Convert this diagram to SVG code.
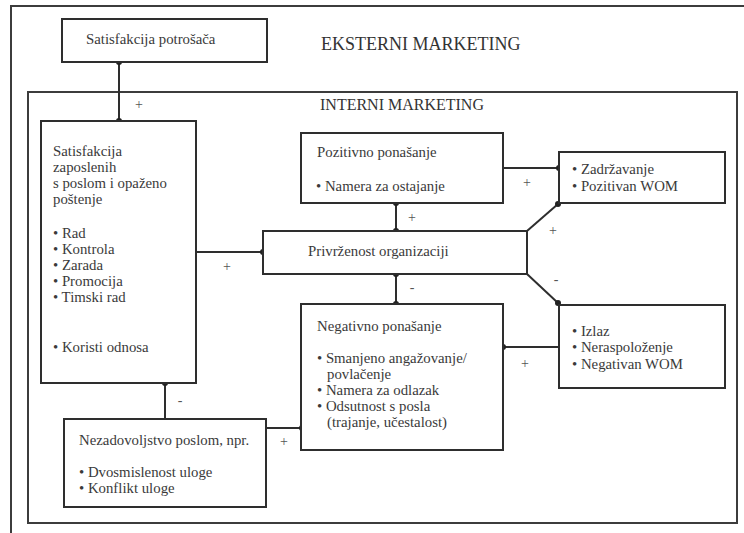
<svg xmlns="http://www.w3.org/2000/svg" width="744" height="533" viewBox="0 0 744 533">
  <style>
    .frame { fill: none; stroke: #3c3c3c; stroke-width: 2; }
    .box { fill: #ffffff; stroke: #2e2e2e; stroke-width: 2; }
    .link { fill: none; stroke: #2e2e2e; stroke-width: 2; }
  </style>
  <defs>
    <marker id="dot" viewBox="0 0 6 6" refX="3" refY="3" markerWidth="3" markerHeight="3" markerUnits="strokeWidth">
      <circle cx="3" cy="3" r="3" fill="#222222"/>
    </marker>
  </defs>

  <rect width="744" height="533" fill="#ffffff"/>

  <!-- outer and inner frames -->
  <rect class="frame" x="11" y="6" width="760" height="560"/>
  <rect class="frame" x="28" y="92" width="709" height="431"/>
  <g font-family="'Liberation Serif', serif" fill="#333333">
    <text x="321" y="50" font-size="18">EKSTERNI MARKETING</text>
    <text x="320" y="110" font-size="16">INTERNI MARKETING</text>
  </g>

  <!-- connectors -->
  <g id="connectors">
    <path class="link" d="M119,62 V121" marker-start="url(#dot)" marker-end="url(#dot)"/>
    <path class="link" d="M196,252 H263" marker-end="url(#dot)"/>
    <path class="link" d="M396,203 V231" marker-start="url(#dot)" marker-end="url(#dot)"/>
    <path class="link" d="M396,274 V304" marker-start="url(#dot)" marker-end="url(#dot)"/>
    <path class="link" d="M503,168 H559" marker-end="url(#dot)"/>
    <path class="link" d="M527,231 L558,204" marker-end="url(#dot)"/>
    <path class="link" d="M527,274 L558,303" marker-end="url(#dot)"/>
    <path class="link" d="M559,347 H503" marker-end="url(#dot)"/>
    <path class="link" d="M165,419 V383" marker-end="url(#dot)"/>
    <path class="link" d="M266,428 H302" marker-end="url(#dot)"/>

    <g font-family="'Liberation Serif', serif" font-size="14" fill="#555555" text-anchor="middle">
      <text x="139" y="109">+</text>
      <text x="227" y="271">+</text>
      <text x="412" y="222">+</text>
      <text x="412" y="292">-</text>
      <text x="527" y="187">+</text>
      <text x="553" y="235">+</text>
      <text x="556" y="284">-</text>
      <text x="525" y="368">+</text>
      <text x="180" y="405">-</text>
      <text x="284" y="446">+</text>
    </g>
  </g>

  <g font-family="'Liberation Serif', serif" font-size="14.8" fill="#3a3a3a">
    <g id="satisfakcija-potrosaca">
      <rect class="box" x="62" y="19" width="205" height="43"/>
      <text x="86" y="44">Satisfakcija potrošača</text>
    </g>

    <g id="satisfakcija-zaposlenih">
      <rect class="box" x="41" y="121" width="155" height="262"/>
      <text x="53" y="156">Satisfakcija</text>
      <text x="53" y="172">zaposlenih</text>
      <text x="53" y="188">s poslom i opaženo</text>
      <text x="53" y="204">poštenje</text>
      <text x="53" y="238">• Rad</text>
      <text x="53" y="254">• Kontrola</text>
      <text x="53" y="270">• Zarada</text>
      <text x="53" y="286">• Promocija</text>
      <text x="53" y="302">• Timski rad</text>
      <text x="53" y="352">• Koristi odnosa</text>
    </g>

    <g id="pozitivno-ponasanje">
      <rect class="box" x="301" y="133" width="202" height="70"/>
      <text x="317" y="157">Pozitivno ponašanje</text>
      <text x="316" y="191">• Namera za ostajanje</text>
    </g>

    <g id="privrzenost">
      <rect class="box" x="263" y="231" width="264" height="43"/>
      <text x="308" y="256">Privrženost organizaciji</text>
    </g>

    <g id="negativno-ponasanje">
      <rect class="box" x="301" y="304" width="202" height="146"/>
      <text x="317" y="331">Negativno ponašanje</text>
      <text x="317" y="363">• Smanjeno angažovanje/</text>
      <text x="327" y="379">povlačenje</text>
      <text x="317" y="395">• Namera za odlazak</text>
      <text x="317" y="411">• Odsutnost s posla</text>
      <text x="327" y="427">(trajanje, učestalost)</text>
    </g>

    <g id="zadrzavanje">
      <rect class="box" x="559" y="152" width="166" height="51"/>
      <text x="572" y="174">• Zadržavanje</text>
      <text x="572" y="191">• Pozitivan WOM</text>
    </g>

    <g id="izlaz">
      <rect class="box" x="559" y="305" width="166" height="83"/>
      <text x="572" y="336">• Izlaz</text>
      <text x="572" y="352">• Neraspoloženje</text>
      <text x="572" y="369">• Negativan WOM</text>
    </g>

    <g id="nezadovoljstvo">
      <rect class="box" x="64" y="419" width="202" height="88"/>
      <text x="79" y="445">Nezadovoljstvo poslom, npr.</text>
      <text x="79" y="477">• Dvosmislenost uloge</text>
      <text x="79" y="493">• Konflikt uloge</text>
    </g>
  </g>
</svg>
